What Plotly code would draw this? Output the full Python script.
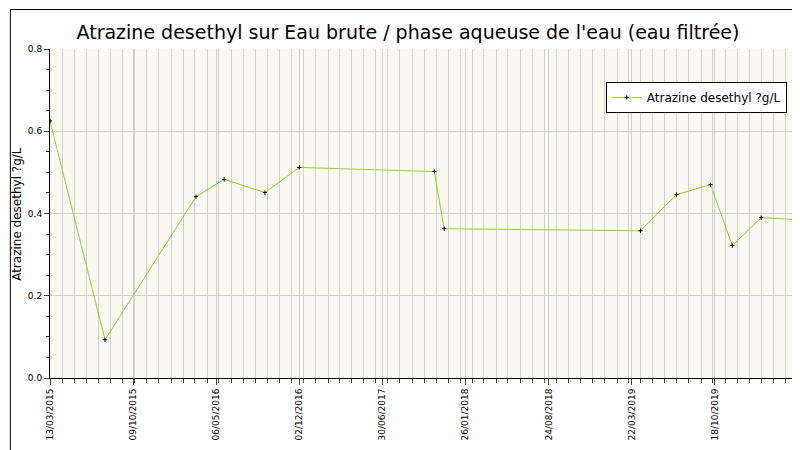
import plotly.graph_objects as go
import pandas as pd

dates = ["2015-03-13","2015-07-30","2016-03-16","2016-05-26","2016-09-06","2016-12-02",
         "2017-11-08","2017-12-03","2019-04-13","2019-07-13","2019-10-07","2019-12-01",
         "2020-02-12","2020-05-15"]
values = [0.625,0.093,0.441,0.483,0.451,0.512,0.502,0.363,0.358,0.446,0.47,0.322,0.39,0.385]
tick_labels = ["13/03/2015","09/10/2015","06/05/2016","02/12/2016","30/06/2017","26/01/2018",
               "24/08/2018","22/03/2019","18/10/2019","15/05/2020"]
tick_vals = [pd.to_datetime(t, dayfirst=True) for t in tick_labels]

fig = go.Figure(go.Scatter(
    x=dates, y=values, mode="lines+markers", name="Atrazine desethyl ?g/L",
    line=dict(color="#9acd32", width=1),
    marker=dict(symbol="cross-thin", size=3, color="black", line=dict(color="black", width=1))))

fig.update_layout(
    width=800, height=450, paper_bgcolor="white", plot_bgcolor="#f9f9f2",
    font=dict(family="DejaVu Sans", color="black"),
    title=dict(text="Atrazine desethyl sur Eau brute / phase aqueuse de l'eau (eau filtrée)",
               x=0.5, y=0.96, font=dict(size=19)),
    margin=dict(l=42, r=10, t=41, b=80, autoexpand=False),
    showlegend=True,
    legend=dict(x=0.985, y=0.9, xanchor="right", yanchor="top", bgcolor="white",
                bordercolor="black", borderwidth=1, font=dict(size=12)),
)
fig.update_xaxes(range=["2015-03-13","2020-05-15"], tickvals=tick_vals, ticktext=tick_labels,
                 tickangle=-90, tickfont=dict(size=9), showgrid=True, gridcolor="#d0d0d0",
                 minor=dict(dtick="M1", tick0="2015-03-13", showgrid=True, gridcolor="#d0d0d0",
                            ticks="outside", ticklen=4),
                 ticks="outside", ticklen=6, showline=True, linecolor="black", zeroline=False,
                 automargin=False)
fig.update_yaxes(range=[0,0.8], dtick=0.2, tickformat=".1f", tickfont=dict(size=9),
                 showgrid=True, gridcolor="#d0d0d0", ticks="outside", ticklen=5,
                 minor=dict(dtick=0.05, ticks="outside", ticklen=3),
                 showline=True, linecolor="black", zeroline=False, automargin=False)
fig.add_annotation(text="Atrazine desethyl ?g/L", textangle=-90, xref="paper", yref="paper",
                   x=-0.045, y=0.5, xanchor="center", yanchor="middle", showarrow=False,
                   font=dict(size=12))
fig.add_shape(type="rect", xref="paper", yref="paper", x0=-0.053, y0=-0.24, x1=1.0125, y1=1.12,
              line=dict(color="black", width=1))
fig.write_html("out.html")
